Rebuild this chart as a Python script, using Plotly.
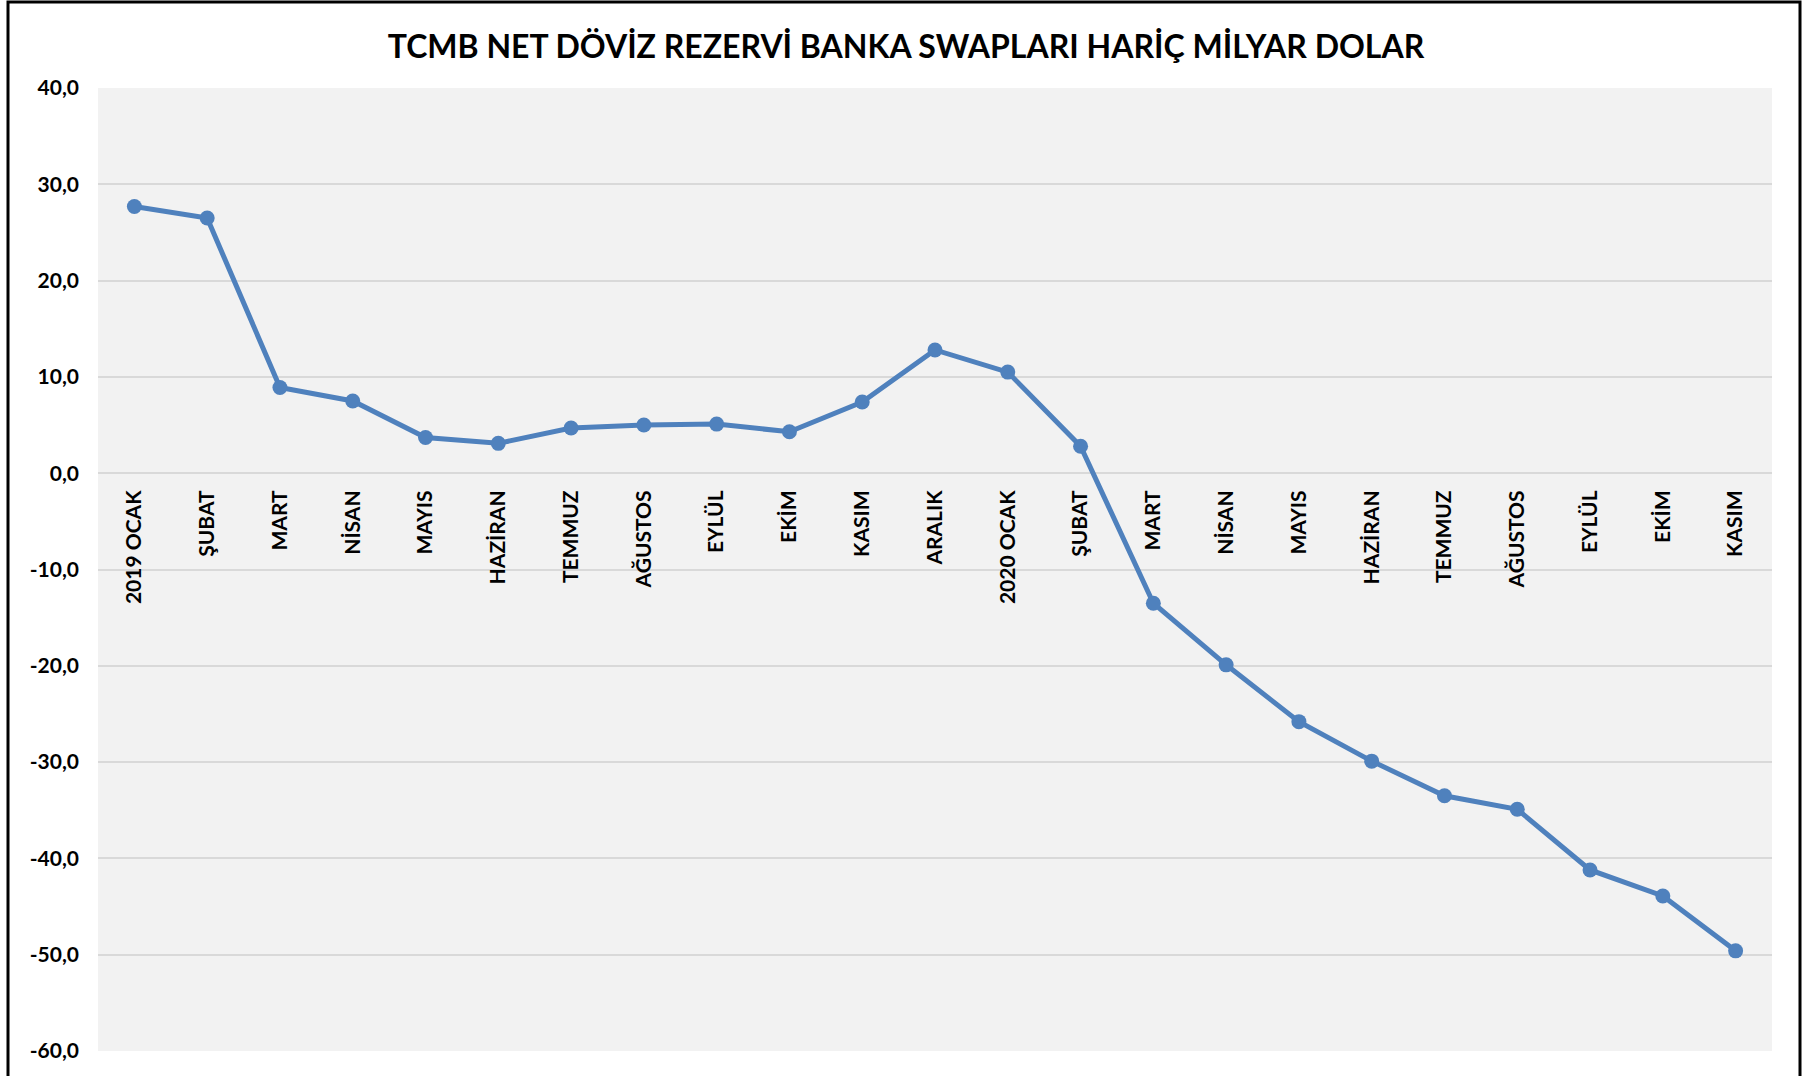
import plotly.graph_objects as go

# ---- data ----
months = ["2019 OCAK", "ŞUBAT", "MART", "NİSAN", "MAYIS", "HAZİRAN", "TEMMUZ",
          "AĞUSTOS", "EYLÜL", "EKİM", "KASIM", "ARALIK",
          "2020 OCAK", "ŞUBAT", "MART", "NİSAN", "MAYIS", "HAZİRAN", "TEMMUZ",
          "AĞUSTOS", "EYLÜL", "EKİM", "KASIM"]
reserves = [27.7, 26.5, 8.9, 7.5, 3.7, 3.1, 4.7, 5.0, 5.1, 4.3, 7.4, 12.8,
            10.5, 2.8, -13.5, -19.9, -25.8, -29.9, -33.5, -34.9, -41.2, -43.9, -49.6]
y_ticks = [-60, -50, -40, -30, -20, -10, 0, 10, 20, 30, 40]
y_ticktext = ["-60,0", "-50,0", "-40,0", "-30,0", "-20,0", "-10,0", "0,0",
              "10,0", "20,0", "30,0", "40,0"]
title_text = "TCMB NET DÖVİZ REZERVİ BANKA SWAPLARI HARİÇ MİLYAR DOLAR"

# ---- layout geometry ----
W, H = 1812, 1076
ML, MR, MT, MB = 98, 40, 88, 25
PW, PH = W - ML - MR, H - MT - MB
y_min, y_max = -60, 40

blue = "#4F81BD"
font_family = "Lato"

fig = go.Figure()
idx = list(range(len(months)))
fig.add_trace(go.Scatter(
    x=idx, y=reserves, mode="lines+markers",
    line=dict(color=blue, width=5),
    marker=dict(color=blue, size=15),
    hoverinfo="skip", showlegend=False,
))

fig.update_layout(
    width=W, height=H,
    margin=dict(l=ML, r=MR, t=MT, b=MB),
    paper_bgcolor="white",
    plot_bgcolor="#F2F2F2",
    title=dict(text=title_text, x=0.5, xanchor="center",
               y=1 - 47 / H, yanchor="middle", yref="container",
               font=dict(family=font_family, size=32, color="black", weight="bold")),
    xaxis=dict(
        range=[-0.5, len(months) - 0.5],
        tickmode="array", tickvals=idx, ticktext=months,
        tickangle=-90,
        anchor="free", position=(0 - y_min) / (y_max - y_min),
        showline=False, showgrid=False, zeroline=False, ticks="",
        ticklabelstandoff=12,
        tickfont=dict(family=font_family, size=21, color="black", weight="bold"),
    ),
    yaxis=dict(
        range=[y_min, y_max],
        tickmode="array", tickvals=y_ticks, ticktext=y_ticktext,
        showgrid=True, gridcolor="#D9D9D9", gridwidth=2,
        zeroline=False, showline=False, ticks="",
        ticklabelstandoff=18,
        tickfont=dict(family=font_family, size=21, color="black", weight="bold"),
    ),
    shapes=[dict(
        type="rect", xref="paper", yref="paper",
        x0=(8 - ML) / PW, x1=(1800 - ML) / PW,
        y0=-0.2, y1=(H - MB - 2) / PH,
        line=dict(color="black", width=3), fillcolor="rgba(0,0,0,0)", layer="above",
    )],
)

fig.write_html("out.html", config={"displayModeBar": False},
               post_script="document.body.style.margin='0';")
